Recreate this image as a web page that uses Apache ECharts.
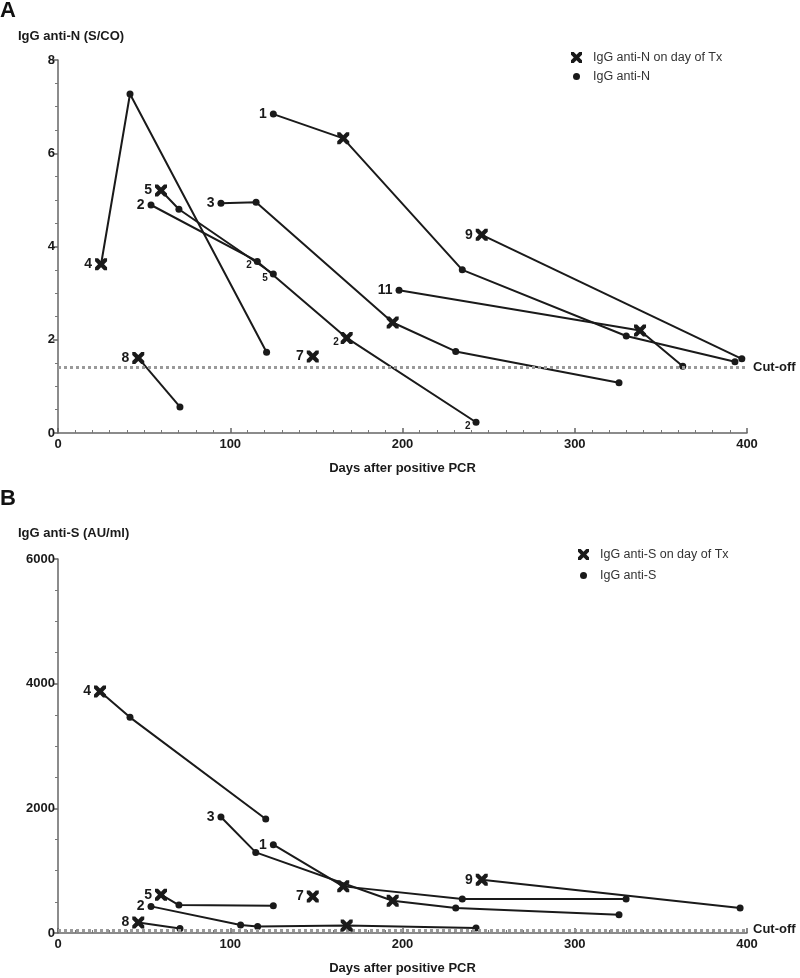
<!DOCTYPE html>
<html>
<head>
<meta charset="utf-8">
<script src="https://cdn.jsdelivr.net/npm/echarts@6/dist/echarts.min.js"></script>
<style>
html,body{margin:0;padding:0;background:#fff;}
#chart{width:800px;height:978px;}
</style>
</head>
<body>
<div id="chart"></div>
<script>
// ---------- Panel A: IgG anti-N (S/CO) ----------
const patientsA = ['1', '2', '3', '4', '5', '7', '8', '9', '11'];
const daysA = [
  [125, 165.6, 234.7, 329.9, 393],
  [54, 115.7, 167.6, 242.7],
  [94.6, 115, 194.3, 230.9, 325.7],
  [25, 41.8, 121.1],
  [59.8, 70.2, 125],
  [147.9],
  [46.6, 70.8],
  [246, 397],
  [198, 337.9, 362.7]
];
const valuesA = [
  [6.84, 6.32, 3.50, 2.08, 1.53],
  [4.89, 3.68, 2.04, 0.23],
  [4.93, 4.95, 2.37, 1.75, 1.08],
  [3.62, 7.27, 1.73],
  [5.20, 4.80, 3.41],
  [1.64],
  [1.61, 0.56],
  [4.25, 1.59],
  [3.06, 2.20, 1.43]
];
const txA = [
  [0, 1, 0, 0, 0],
  [0, 0, 1, 0],
  [0, 0, 1, 0, 0],
  [1, 0, 0],
  [1, 0, 0],
  [1],
  [1, 0],
  [1, 0],
  [0, 1, 0]
];
// indices of points carrying a small patient-number tag
const smallTagsA = [[], [1, 2, 3], [], [], [2], [], [], [], []];
const cutoffA = 1.4;

// ---------- Panel B: IgG anti-S (AU/ml) ----------
const patientsB = ['1', '2', '3', '4', '5', '7', '8', '9'];
const daysB = [
  [125, 165.6, 234.7, 329.8],
  [54, 106, 115.9, 167.6, 242.7],
  [94.6, 114.8, 194.3, 230.9, 325.7],
  [24.4, 41.8, 120.6],
  [59.8, 70.2, 125],
  [147.9],
  [46.6, 70.8],
  [246, 396]
];
const valuesB = [
  [1417, 748, 545, 545],
  [427, 128, 106, 122, 80],
  [1861, 1293, 518, 401, 294],
  [3876, 3460, 1829],
  [614, 449, 438],
  [587],
  [170, 74],
  [855, 401]
];
const txB = [
  [0, 1, 0, 0],
  [0, 0, 0, 1, 0],
  [0, 0, 1, 0, 0],
  [1, 0, 0],
  [1, 0, 0],
  [1],
  [1, 0],
  [1, 0]
];
const smallTagsB = [[], [], [], [], [], [], [], []];
const cutoffB = 50;

const xTicks = [0, 100, 200, 300, 400];

// ---------- build ----------
const FONT = '"Liberation Sans", Arial, sans-serif';
const INK = '#1a1a1a';
const X_PATH = 'path://M0,0 L5,0 L10,5 L15,0 L20,0 L20,5 L15,10 L20,15 L20,20 L15,20 L10,15 L5,20 L0,20 L0,15 L5,10 L0,5 Z';

function panelSeries(gi, patients, days, vals, tx, tags, txName, dotName, cutoff) {
  const series = [];
  const txData = [], dotData = [];
  patients.forEach((p, i) => {
    series.push({
      type: 'line', xAxisIndex: gi, yAxisIndex: gi,
      data: days[i].map((d, j) => [d, vals[i][j]]),
      showSymbol: false, symbol: 'none', silent: true,
      lineStyle: { color: INK, width: 2 }, z: 2
    });
    days[i].forEach((d, j) => {
      const item = { value: [d, vals[i][j]] };
      if (j === 0) {
        item.label = { show: true, formatter: p, position: 'left', distance: 3,
          fontSize: 14, fontWeight: 'bold', color: INK, fontFamily: FONT };
      } else if (tags[i].indexOf(j) >= 0) {
        item.label = { show: true, formatter: p, position: 'left', distance: 2, offset: [0, 4],
          fontSize: 10, fontWeight: 'bold', color: INK, fontFamily: FONT };
      }
      (tx[i][j] ? txData : dotData).push(item);
    });
  });
  series.push({
    name: txName, type: 'scatter', xAxisIndex: gi, yAxisIndex: gi,
    symbol: X_PATH, symbolSize: 12, itemStyle: { color: INK, opacity: 1 }, data: txData, z: 5, silent: true
  });
  series.push({
    name: dotName, type: 'scatter', xAxisIndex: gi, yAxisIndex: gi,
    symbol: 'circle', symbolSize: 7, itemStyle: { color: INK, opacity: 1 }, data: dotData, z: 4, silent: true,
    markLine: {
      silent: true, symbol: 'none', animation: false,
      lineStyle: { type: 'dotted', color: '#9a9a9a', width: 3 },
      label: { show: true, position: 'end', formatter: 'Cut-off', distance: 6,
        fontSize: 13, fontWeight: 'bold', color: INK, fontFamily: FONT },
      data: [{ yAxis: cutoff }]
    }
  });
  return series;
}

function xAxisCfg(gi) {
  return {
    type: 'value', gridIndex: gi, min: xTicks[0], max: xTicks[xTicks.length - 1], interval: 100,
    name: 'Days after positive PCR', nameLocation: 'middle', nameGap: 29,
    nameTextStyle: { fontSize: 13, fontWeight: 'bold', color: INK, fontFamily: FONT },
    axisLine: { lineStyle: { color: '#666', width: 1.5 } },
    axisTick: { inside: true, length: 5, lineStyle: { color: '#666', width: 1.5 } },
    minorTick: { show: true, splitNumber: 10, length: 3, lineStyle: { color: '#777', width: 1 } },
    axisLabel: { fontSize: 13, fontWeight: 'bold', color: INK, fontFamily: FONT, margin: 5 },
    splitLine: { show: false }
  };
}
function yAxisCfg(gi, max, interval) {
  return {
    type: 'value', gridIndex: gi, min: 0, max: max, interval: interval,
    axisLine: { show: true, lineStyle: { color: '#666', width: 1.5 } },
    axisTick: { show: true, length: 5, lineStyle: { color: '#666', width: 1.5 } },
    minorTick: { show: true, splitNumber: 4, length: 3, lineStyle: { color: '#777', width: 1 } },
    axisLabel: { fontSize: 13, fontWeight: 'bold', color: INK, fontFamily: FONT, margin: 3,
      formatter: function (v) { return String(v); } },
    splitLine: { show: false }
  };
}

const series = [].concat(
  panelSeries(0, patientsA, daysA, valuesA, txA, smallTagsA, 'IgG anti-N on day of Tx', 'IgG anti-N', cutoffA),
  panelSeries(1, patientsB, daysB, valuesB, txB, smallTagsB, 'IgG anti-S on day of Tx', 'IgG anti-S', cutoffB)
);

function legendCfg(name, icon, size, left, top, pad) {
  return {
    data: [{ name: name, icon: icon }], left: left, top: top, orient: 'vertical',
    itemWidth: size, itemHeight: size, selectedMode: false, padding: 0,
    itemStyle: { color: INK, opacity: 1 },
    textStyle: { fontSize: 12.5, color: '#333', fontFamily: FONT, padding: [0, 0, 0, pad] }
  };
}

const option = {
  animation: false,
  backgroundColor: '#fff',
  textStyle: { fontFamily: FONT },
  title: [
    { text: 'A', left: 0, top: 0, padding: 0, textStyle: { fontSize: 22, fontWeight: 'bold', color: '#111', fontFamily: FONT } },
    { text: 'IgG anti-N (S/CO)', left: 18, top: 30, padding: 0, textStyle: { fontSize: 13, fontWeight: 'bold', color: INK, fontFamily: FONT } },
    { text: 'B', left: 0, top: 488, padding: 0, textStyle: { fontSize: 22, fontWeight: 'bold', color: '#111', fontFamily: FONT } },
    { text: 'IgG anti-S (AU/ml)', left: 18, top: 527, padding: 0, textStyle: { fontSize: 13, fontWeight: 'bold', color: INK, fontFamily: FONT } }
  ],
  legend: [
    legendCfg('IgG anti-N on day of Tx', X_PATH, 11, 571, 51, 6),
    legendCfg('IgG anti-N', 'circle', 7, 573, 70, 8),
    legendCfg('IgG anti-S on day of Tx', X_PATH, 11, 578, 548, 6),
    legendCfg('IgG anti-S', 'circle', 7, 580, 569, 8)
  ],
  grid: [
    { left: 58, right: 53, top: 60, height: 373 },
    { left: 58, right: 53, top: 559, height: 374 }
  ],
  xAxis: [xAxisCfg(0), xAxisCfg(1)],
  yAxis: [yAxisCfg(0, 8, 2), yAxisCfg(1, 6000, 2000)],
  series: series
};

const chart = echarts.init(document.getElementById('chart'), null, { renderer: 'canvas' });
chart.setOption(option);
</script>
</body>
</html>
